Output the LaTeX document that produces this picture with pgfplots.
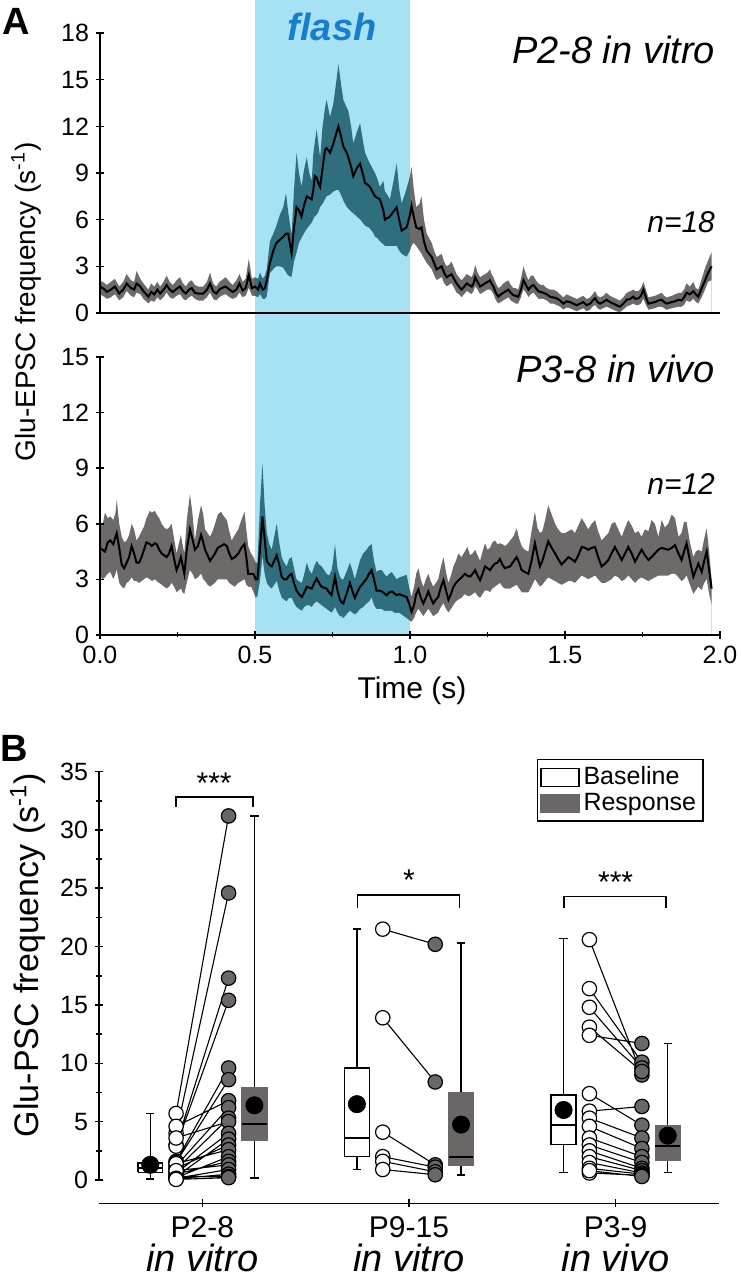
\documentclass[border=0pt]{standalone}
\usepackage{pgfplots}
\pgfplotsset{compat=1.18}
\usepackage{pgfplotstable}
\usepackage{fontspec}
\setmainfont{Liberation Sans}
\definecolor{bandgrey}{RGB}{110,106,106}
\definecolor{bandteal}{RGB}{47,110,125}
\definecolor{flashblue}{RGB}{167,226,244}
\definecolor{flashtext}{RGB}{25,125,205}
\definecolor{respgrey}{RGB}{107,103,103}

\pgfplotstableread{
t m lo hi
0.000 1.7 1.2 2.1
0.016 1.5 1.0 1.9
0.022 1.35 0.9 1.8
0.035 1.5 1.0 2.0
0.048 1.7 1.2 2.2
0.062 1.25 0.8 1.7
0.075 1.5 1.0 2.0
0.086 1.9 1.4 2.5
0.100 1.6 1.1 2.1
0.110 1.5 1.0 2.0
0.118 1.9 1.3 2.7
0.130 1.7 1.2 2.2
0.140 1.4 0.9 1.9
0.156 1.05 0.6 1.5
0.165 1.35 0.8 1.9
0.175 1.2 0.7 1.7
0.185 1.5 1.0 2.0
0.194 1.25 0.8 1.7
0.205 1.5 1.0 2.0
0.215 1.8 1.3 2.4
0.225 1.5 1.0 2.0
0.235 1.35 0.9 1.8
0.247 1.55 1.1 2.1
0.258 1.7 1.2 2.3
0.268 1.4 0.9 1.9
0.277 1.25 0.8 1.7
0.287 1.5 1.0 2.0
0.296 1.6 1.1 2.1
0.306 1.3 0.9 1.8
0.317 1.25 0.8 1.7
0.333 1.25 0.8 1.7
0.345 1.5 1.0 2.0
0.355 1.9 1.3 2.6
0.365 1.4 0.9 1.9
0.375 1.25 0.8 1.7
0.385 1.5 1.0 2.0
0.392 1.6 1.1 2.1
0.405 1.7 1.2 2.3
0.418 1.5 1.0 2.0
0.428 1.35 0.9 1.8
0.440 1.5 1.0 2.1
0.450 1.9 1.3 2.5
0.460 1.45 1.0 2.0
0.470 1.6 1.1 2.2
0.480 2.45 1.6 3.5
0.490 1.6 1.1 2.2
0.500 1.7 1.1 2.3
0.510 1.5 1.0 2.2
0.516 1.9 1.2 2.6
0.525 1.5 0.9 2.2
0.532 1.6 0.9 2.4
0.538 2.1 1.05 2.8
0.548 3.2 2.55 4.6
0.559 4.0 2.8 5.1
0.569 4.5 3.0 5.6
0.580 4.7 3.0 6.3
0.591 4.9 2.9 6.8
0.600 5.1 2.6 7.7
0.607 5.1 2.4 6.5
0.618 3.85 2.3 5.0
0.626 5.5 3.3 8.0
0.634 6.8 3.85 10.3
0.642 6.6 4.5 9.0
0.650 6.2 4.8 8.1
0.658 6.9 5.1 9.2
0.667 7.5 5.4 10.0
0.675 7.4 5.6 9.0
0.683 7.3 5.8 8.5
0.688 7.9 6.0 10.2
0.693 8.8 6.2 11.0
0.699 8.7 6.3 11.8
0.705 8.3 6.5 10.8
0.710 8.1 6.8 10.0
0.718 9.3 7.0 12.0
0.726 10.5 7.3 13.2
0.731 10.6 7.5 13.7
0.742 10.3 7.6 12.6
0.753 10.9 7.8 13.5
0.763 11.6 7.9 15.0
0.769 12.0 7.9 16.0
0.777 11.4 7.6 14.8
0.785 10.7 7.2 13.7
0.796 10.3 6.8 13.2
0.801 10.0 6.7 13.0
0.810 9.4 6.5 12.0
0.817 8.8 6.4 10.9
0.828 9.3 6.2 11.6
0.839 9.6 6.0 12.2
0.847 9.0 5.8 11.2
0.855 8.35 5.6 10.3
0.866 8.2 5.5 9.8
0.871 8.1 5.4 9.6
0.879 7.8 5.2 9.3
0.887 7.5 4.9 9.0
0.895 7.4 4.8 8.6
0.903 7.3 4.6 8.1
0.914 6.6 4.4 8.5
0.919 6.0 4.3 7.8
0.927 6.1 4.3 7.6
0.935 6.2 4.3 7.3
0.946 6.5 4.3 8.4
0.957 6.8 4.3 9.6
0.965 6.0 4.0 8.0
0.973 5.3 3.8 7.05
0.981 5.4 3.7 7.5
0.989 5.5 3.6 8.0
1.000 6.3 4.0 8.8
1.005 6.9 4.3 9.4
1.012 6.2 4.5 8.0
1.020 5.5 4.3 6.8
1.030 5.4 4.0 7.0
1.037 5.5 3.8 7.5
1.045 4.6 3.5 6.0
1.054 4.0 3.2 5.1
1.062 3.8 3.0 4.8
1.070 3.6 2.8 4.5
1.078 3.2 2.4 4.0
1.086 2.8 2.1 3.6
1.094 2.9 2.2 3.7
1.102 3.0 2.3 3.8
1.110 2.6 1.9 3.3
1.118 2.3 1.7 3.0
1.126 2.4 1.8 3.1
1.134 2.5 1.9 3.3
1.142 2.2 1.6 2.9
1.150 1.9 1.3 2.5
1.158 1.7 1.2 2.3
1.166 1.5 1.0 2.1
1.175 1.7 1.2 2.3
1.183 1.9 1.4 2.5
1.191 1.8 1.3 2.4
1.199 1.7 1.2 2.3
1.205 1.9 1.4 2.6
1.210 2.3 1.7 3.1
1.218 2.0 1.5 2.6
1.226 1.7 1.2 2.3
1.234 1.8 1.3 2.4
1.242 1.9 1.4 2.5
1.250 2.0 1.5 2.6
1.258 2.1 1.5 2.8
1.263 1.9 1.4 2.5
1.269 1.7 1.2 2.3
1.277 1.3 0.8 1.9
1.285 1.05 0.6 1.6
1.293 1.2 0.7 1.7
1.301 1.3 0.8 1.9
1.309 1.4 0.9 2.0
1.317 1.5 1.0 2.1
1.325 1.3 0.8 1.8
1.333 1.15 0.7 1.6
1.341 1.1 0.6 1.6
1.349 1.05 0.6 1.5
1.358 1.5 1.0 2.2
1.366 2.1 1.5 3.0
1.374 1.8 1.3 2.5
1.382 1.5 1.0 2.1
1.390 1.7 1.2 2.4
1.398 1.8 1.3 2.4
1.406 1.6 1.1 2.1
1.414 1.4 0.9 1.9
1.422 1.35 0.9 1.8
1.430 1.3 0.9 1.8
1.441 1.2 0.8 1.6
1.452 1.05 0.6 1.5
1.462 1.0 0.6 1.5
1.473 0.95 0.5 1.4
1.484 0.8 0.4 1.2
1.495 0.6 0.2 1.0
1.505 0.75 0.35 1.2
1.516 0.7 0.3 1.1
1.527 0.6 0.2 1.0
1.538 0.5 0.1 0.9
1.548 0.6 0.2 1.0
1.559 0.7 0.3 1.1
1.570 0.5 0.1 0.9
1.581 0.6 0.2 1.0
1.589 0.8 0.4 1.2
1.597 0.95 0.5 1.4
1.605 0.7 0.3 1.1
1.613 0.6 0.2 1.0
1.623 0.7 0.3 1.1
1.634 0.85 0.4 1.3
1.645 0.7 0.3 1.1
1.656 0.6 0.2 1.0
1.666 0.5 0.1 0.9
1.677 0.4 0.05 0.8
1.688 0.6 0.2 1.0
1.699 0.85 0.4 1.3
1.710 0.9 0.5 1.4
1.720 1.05 0.6 1.5
1.728 0.9 0.5 1.4
1.737 0.95 0.5 1.4
1.745 1.1 0.6 1.6
1.753 1.5 0.9 2.0
1.761 1.0 0.5 1.5
1.769 0.6 0.2 1.0
1.779 0.65 0.25 1.05
1.790 0.7 0.3 1.1
1.801 0.8 0.4 1.2
1.812 0.85 0.4 1.3
1.820 0.7 0.3 1.1
1.828 0.6 0.2 1.0
1.836 0.65 0.25 1.05
1.844 0.7 0.3 1.1
1.855 0.75 0.35 1.2
1.866 0.85 0.4 1.3
1.876 0.8 0.4 1.3
1.884 1.0 0.5 1.5
1.892 1.3 0.8 1.9
1.903 1.2 0.7 1.7
1.914 1.4 0.9 2.0
1.922 1.2 0.7 1.6
1.930 1.05 0.6 1.5
1.941 1.6 1.0 2.2
1.952 2.1 1.5 2.9
1.962 2.6 2.0 3.4
1.973 3.0 2.1 3.9
}\dataTop

\pgfplotstableread{
t m lo hi
0.000 4.7 3.15 6.0
0.008 4.6 3.0 5.9
0.016 4.5 3.1 6.6
0.025 5.0 3.3 6.3
0.033 5.1 3.4 6.4
0.043 4.9 3.0 6.2
0.050 5.3 3.3 6.6
0.054 5.5 3.5 7.3
0.062 4.7 2.8 6.0
0.070 3.8 2.6 5.3
0.078 3.6 2.5 5.0
0.086 3.9 2.8 5.1
0.094 4.2 2.9 5.4
0.102 4.8 3.1 6.0
0.110 4.4 2.9 5.7
0.118 3.9 2.9 5.1
0.126 3.9 2.8 5.3
0.134 4.2 2.9 5.6
0.142 4.6 3.0 5.85
0.150 5.0 3.1 6.3
0.161 4.9 3.0 6.7
0.167 4.8 2.9 6.6
0.177 4.95 3.0 6.7
0.183 4.9 2.9 6.5
0.191 4.6 2.8 6.3
0.199 4.4 2.7 6.0
0.207 4.3 2.6 5.8
0.215 4.2 2.5 5.7
0.223 4.4 2.6 5.8
0.231 4.8 2.8 6.0
0.239 4.1 2.6 5.2
0.247 3.5 2.3 4.4
0.254 3.8 2.4 4.9
0.261 4.2 2.5 5.4
0.266 3.8 2.3 4.9
0.272 3.3 2.2 4.4
0.280 4.6 2.8 6.2
0.290 5.7 3.5 7.6
0.298 5.2 3.3 6.6
0.306 4.6 3.0 5.1
0.316 4.8 3.1 6.2
0.326 5.4 3.3 7.0
0.333 5.0 3.0 6.5
0.339 4.6 2.9 5.7
0.347 4.3 2.7 5.5
0.355 4.0 2.6 5.3
0.363 4.2 2.7 5.6
0.371 4.4 2.8 6.0
0.380 4.7 3.0 6.5
0.390 4.8 3.0 6.65
0.400 4.9 3.0 6.4
0.409 4.8 3.0 6.2
0.417 4.4 2.8 5.6
0.425 4.1 2.7 5.1
0.435 4.2 2.6 5.4
0.446 4.4 2.8 5.7
0.456 4.7 2.9 6.2
0.466 4.9 3.0 6.65
0.472 4.2 2.7 5.7
0.478 3.3 2.6 4.8
0.487 3.3 2.6 4.4
0.495 3.3 2.3 4.2
0.500 3.1 2.1 4.0
0.502 3.0 2.0 3.9
0.508 3.0 2.1 3.9
0.516 4.6 2.9 7.0
0.524 6.4 4.2 9.25
0.531 5.2 3.3 7.0
0.538 4.0 2.8 5.5
0.546 3.8 2.6 4.9
0.554 3.7 2.5 4.6
0.562 4.0 2.7 5.3
0.570 4.3 2.9 6.0
0.578 3.8 2.4 5.0
0.586 3.15 2.0 4.2
0.594 3.0 1.9 3.9
0.602 3.0 1.8 3.7
0.610 3.2 2.0 4.1
0.618 3.3 2.0 4.2
0.626 2.8 1.7 3.6
0.634 2.4 1.5 3.0
0.642 2.2 1.4 2.9
0.651 2.05 1.3 2.8
0.659 2.3 1.5 3.3
0.667 2.6 1.6 3.9
0.675 2.55 1.6 3.5
0.683 2.5 1.5 3.3
0.691 2.8 1.7 3.7
0.699 3.05 1.8 4.0
0.707 2.8 1.7 3.8
0.715 2.6 1.6 3.7
0.723 2.55 1.5 3.5
0.731 2.5 1.4 3.3
0.739 2.3 1.3 3.2
0.747 2.15 1.2 3.5
0.752 2.6 1.3 4.0
0.758 3.15 1.5 4.9
0.766 2.4 1.2 3.6
0.774 1.9 1.0 3.15
0.780 1.75 1.0 3.0
0.785 1.7 0.9 3.0
0.795 2.2 1.1 3.4
0.806 2.8 1.3 3.9
0.814 2.4 1.2 3.5
0.822 2.0 1.1 3.0
0.830 2.3 1.2 3.5
0.839 2.6 1.4 4.05
0.849 2.8 1.5 4.4
0.860 3.05 1.7 4.6
0.868 3.3 1.8 4.8
0.876 3.5 2.0 4.9
0.884 3.0 1.6 4.0
0.892 2.4 1.4 3.4
0.900 2.4 1.4 3.5
0.909 2.35 1.4 3.5
0.917 2.25 1.3 3.3
0.925 2.15 1.3 3.15
0.933 2.3 1.3 3.3
0.941 2.35 1.3 3.4
0.949 2.25 1.2 3.2
0.957 2.15 1.2 3.0
0.965 2.2 1.2 3.1
0.973 2.15 1.1 3.15
0.981 2.1 1.0 3.2
0.989 2.05 0.9 3.25
0.997 1.7 0.8 2.6
1.000 1.55 0.75 2.4
1.005 1.25 0.7 2.05
1.013 1.6 0.9 2.6
1.020 2.2 1.2 3.3
1.027 2.45 1.4 3.6
1.035 2.0 1.2 3.0
1.043 1.7 1.0 2.6
1.051 2.0 1.2 3.0
1.059 2.35 1.4 3.3
1.067 2.0 1.2 2.9
1.075 1.7 1.0 2.6
1.083 1.9 1.1 2.8
1.091 2.05 1.2 3.0
1.100 2.6 1.5 3.7
1.108 2.95 1.7 4.2
1.116 2.4 1.4 3.4
1.124 1.9 1.2 2.8
1.132 2.2 1.4 3.2
1.140 2.6 1.6 3.7
1.148 2.8 1.8 4.0
1.156 2.95 1.9 4.4
1.166 3.1 2.0 4.2
1.177 3.3 2.2 4.5
1.185 3.2 2.1 4.75
1.194 3.15 2.1 4.3
1.202 3.3 2.2 4.4
1.210 3.5 2.3 4.6
1.218 3.2 2.1 4.3
1.226 2.95 2.0 4.0
1.234 3.3 2.2 4.5
1.242 3.7 2.4 4.95
1.250 3.6 2.4 4.6
1.258 3.5 2.3 4.7
1.266 3.7 2.5 5.0
1.274 3.85 2.6 5.1
1.282 3.9 2.7 4.9
1.290 4.1 2.8 4.95
1.298 3.8 2.6 4.9
1.306 3.6 2.5 4.8
1.314 3.65 2.5 4.9
1.323 3.7 2.5 5.1
1.333 3.95 2.6 5.3
1.344 4.2 2.7 5.75
1.352 3.9 2.5 5.2
1.360 3.5 2.3 4.8
1.370 3.4 2.3 4.6
1.382 3.3 2.3 4.5
1.392 4.0 2.6 5.6
1.403 4.95 3.0 6.65
1.411 4.3 2.8 5.8
1.419 3.7 2.6 5.5
1.427 4.0 2.7 5.6
1.436 4.5 2.9 6.2
1.446 5.05 3.1 7.0
1.457 4.7 3.0 6.5
1.468 4.4 2.9 6.0
1.478 4.1 2.8 5.7
1.489 3.8 2.7 5.5
1.500 4.0 2.8 5.5
1.511 4.2 2.9 5.6
1.521 4.1 2.9 5.7
1.532 3.95 2.8 5.5
1.543 4.3 3.0 5.9
1.554 4.75 3.2 6.3
1.565 4.7 3.1 6.0
1.575 4.6 3.0 5.7
1.586 4.7 3.1 6.0
1.597 4.75 3.2 6.2
1.607 4.2 3.0 5.6
1.618 3.7 2.8 5.1
1.629 3.85 2.8 5.3
1.640 4.05 2.9 5.5
1.650 4.4 3.0 6.0
1.661 4.75 3.2 6.1
1.672 4.4 3.1 5.7
1.683 4.05 2.9 5.3
1.694 4.4 3.0 5.8
1.704 4.75 3.2 6.2
1.715 4.4 3.0 5.9
1.726 3.95 2.8 5.5
1.737 4.3 3.0 5.6
1.747 4.6 3.1 5.3
1.758 4.3 3.0 5.7
1.769 4.05 2.9 5.6
1.779 4.2 3.0 6.2
1.790 4.4 3.1 6.0
1.801 4.6 3.2 5.3
1.812 4.7 3.2 6.2
1.822 4.65 3.2 5.8
1.833 4.6 3.2 6.0
1.844 4.7 3.3 6.5
1.855 4.85 3.3 6.3
1.866 4.4 3.1 5.3
1.876 4.05 2.9 5.5
1.884 4.5 3.0 6.1
1.892 4.95 3.2 6.1
1.903 4.0 2.7 5.0
1.914 3.15 2.2 4.2
1.922 3.5 2.4 4.5
1.930 3.85 2.6 4.6
1.941 3.4 2.4 4.5
1.949 4.0 2.8 5.2
1.957 4.5 3.0 5.75
1.965 3.5 2.2 4.5
1.973 2.5 1.6 3.0
}\dataBot

\begin{document}
\begin{tikzpicture}
\useasboundingbox (0,0) rectangle (370pt,640pt);
\pgfplotsset{
  panel/.style={
    scale only axis, anchor=south west,
    /pgf/number format/assume math mode=true,
    tick label style={font=\fontsize{12.5}{14}\selectfont},
    tick style={black, line width=0.8pt},
    tick align=outside,
    major tick length=4pt, minor tick length=2.5pt,
  },
  noarrows/.style={
    axis line style={-, line width=0.8pt},
    every outer x axis line/.append style={-},
    every outer y axis line/.append style={-},
    x axis line style={-}, y axis line style={-},
  },
}

% ---------- flash period (spans both A panels) ----------
\begin{axis}[scale only axis, anchor=south west, at={(50pt,322.5pt)}, width=310pt, height=317.5pt,
  xmin=0, xmax=2, ymin=0, ymax=1, hide axis]
\addplot[fill=flashblue, draw=none] coordinates {(0.5,0) (1,0) (1,1) (0.5,1)};
\end{axis}

% ---------- Panel A, lower (in vivo) ----------
\begin{axis}[panel, at={(50pt,322.5pt)}, width=310pt, height=139pt,
  xmin=0, xmax=2, ymin=0, ymax=15,
  axis x line=bottom, axis y line=left, noarrows, axis on top,
  ytick={0,3,...,15}, xtick={0,0.5,...,2}, minor x tick num=1,
  xticklabel style={/pgf/number format/fixed, /pgf/number format/fixed zerofill, /pgf/number format/precision=1}]
\addplot[fill=bandgrey, draw=none, restrict x to domain=0:0.5] table[x=t,y=hi]{\dataBot} \closedcycle;
\addplot[fill=white, draw=none, restrict x to domain=0:0.5] table[x=t,y=lo]{\dataBot} \closedcycle;
\addplot[fill=bandteal, draw=none, restrict x to domain=0.5:1] table[x=t,y=hi]{\dataBot} \closedcycle;
\addplot[fill=flashblue, draw=none, restrict x to domain=0.5:1] table[x=t,y=lo]{\dataBot} \closedcycle;
\addplot[fill=bandgrey, draw=none, restrict x to domain=1:2] table[x=t,y=hi]{\dataBot} \closedcycle;
\addplot[fill=white, draw=none, restrict x to domain=1:2] table[x=t,y=lo]{\dataBot} \closedcycle;
\addplot[black, line width=1pt] table[x=t,y=m]{\dataBot};
\end{axis}

% ---------- Panel A, upper (in vitro) ----------
\begin{axis}[panel, at={(50pt,483.5pt)}, width=310pt, height=140pt,
  xmin=0, xmax=2, ymin=0, ymax=18,
  axis x line=bottom, axis y line=left, noarrows, axis on top,
  ytick={0,3,...,18}, xtick=\empty]
\addplot[fill=bandgrey, draw=none, restrict x to domain=0:0.5] table[x=t,y=hi]{\dataTop} \closedcycle;
\addplot[fill=white, draw=none, restrict x to domain=0:0.5] table[x=t,y=lo]{\dataTop} \closedcycle;
\addplot[fill=bandteal, draw=none, restrict x to domain=0.5:1] table[x=t,y=hi]{\dataTop} \closedcycle;
\addplot[fill=flashblue, draw=none, restrict x to domain=0.5:1] table[x=t,y=lo]{\dataTop} \closedcycle;
\addplot[fill=bandgrey, draw=none, restrict x to domain=1:2] table[x=t,y=hi]{\dataTop} \closedcycle;
\addplot[fill=white, draw=none, restrict x to domain=1:2] table[x=t,y=lo]{\dataTop} \closedcycle;
\addplot[black, line width=1pt] table[x=t,y=m]{\dataTop};
\end{axis}

% texts of panel A
\node[font=\fontsize{19}{19}\selectfont\bfseries] at (8pt,629.5pt) {A};
\node[font=\fontsize{19}{19}\selectfont\bfseries\itshape, text=flashtext] at (166pt,626.5pt) {flash};
\node[anchor=east, font=\fontsize{19}{19}\selectfont\itshape] at (361pt,615pt) {P2-8 in vitro};
\node[anchor=east, font=\fontsize{15}{15}\selectfont\itshape] at (361pt,529pt) {n=18};
\node[anchor=east, font=\fontsize{19}{19}\selectfont\itshape] at (361pt,455.5pt) {P3-8 in vivo};
\node[anchor=east, font=\fontsize{15}{15}\selectfont\itshape] at (361pt,398pt) {n=12};
\node[rotate=90, font=\fontsize{14}{14}\selectfont] at (13pt,489pt) {Glu-EPSC frequency (s\textsuperscript{-1})};
\node[font=\fontsize{15}{15}\selectfont] at (206pt,294.5pt) {Time (s)};

% ---------- Panel B: detached category axis ----------
\begin{axis}[panel, at={(49.5pt,38.3pt)}, width=310pt, height=5pt,
  xmin=0.5, xmax=3.5, ymin=0, ymax=1,
  axis x line=bottom, axis y line=none, noarrows,
  xtick={1,2,3},
  xticklabels={{P2-8\\{\fontsize{19}{19}\selectfont\itshape in vitro}},
               {P9-15\\{\fontsize{19}{19}\selectfont\itshape in vitro}},
               {P3-9\\{\fontsize{19}{19}\selectfont\itshape in vivo}}},
  xticklabel style={font=\fontsize{15}{17}\selectfont, align=center, yshift=-1pt}]
\addplot[draw=none] coordinates {(1,0.5)};
\end{axis}

% ---------- Panel B: data ----------
\begin{axis}[panel, at={(49.5pt,50pt)}, width=310pt, height=204.2pt,
  xmin=0.5, xmax=3.5, ymin=0, ymax=35,
  axis x line=none, axis y line=left, noarrows,
  ytick={0,5,...,35}, minor y tick num=1,
  unbounded coords=jump,
  legend style={at={(axis cs:3.427,36.1)}, anchor=north east, draw=black, line width=0.8pt,
     font=\fontsize{12.5}{13}\selectfont, inner sep=1.5pt, row sep=-1pt},
  legend cell align=left]
\addlegendimage{legend image code/.code={\draw[fill=white,draw=black,line width=0.6pt] (0pt,-4.5pt) rectangle (19pt,4.5pt);}}
\addlegendentry{Baseline}
\addlegendimage{legend image code/.code={\draw[fill=respgrey,draw=respgrey,line width=0.6pt] (0pt,-4.5pt) rectangle (19pt,4.5pt);}}
\addlegendentry{Response}
% whiskers and caps
\addplot[forget plot, black, line width=0.7pt] coordinates {
(0.748,1.47) (0.748,5.7) (1,nan) (0.728,5.7) (0.768,5.7) (1,nan)
(0.748,0.65) (0.748,0.07) (1,nan) (0.728,0.07) (0.768,0.07) (1,nan)
(1.252,7.95) (1.252,31.2) (1,nan) (1.232,31.2) (1.272,31.2) (1,nan)
(1.252,3.37) (1.252,0.16) (1,nan) (1.232,0.16) (1.272,0.16) (1,nan)
(1.748,9.6) (1.748,21.5) (1,nan) (1.728,21.5) (1.768,21.5) (1,nan)
(1.748,2.0) (1.748,0.9) (1,nan) (1.728,0.9) (1.768,0.9) (1,nan)
(2.252,7.5) (2.252,20.3) (1,nan) (2.232,20.3) (2.272,20.3) (1,nan)
(2.252,1.24) (2.252,0.43) (1,nan) (2.232,0.43) (2.272,0.43) (1,nan)
(2.748,7.3) (2.748,20.7) (1,nan) (2.728,20.7) (2.768,20.7) (1,nan)
(2.748,3.04) (2.748,0.65) (1,nan) (2.728,0.65) (2.768,0.65) (1,nan)
(3.252,4.65) (3.252,11.7) (1,nan) (3.232,11.7) (3.272,11.7) (1,nan)
(3.252,1.7) (3.252,0.65) (1,nan) (3.232,0.65) (3.272,0.65)
};
% boxes (interquartile ranges)
\addplot[forget plot, fill=white, draw=black, line width=0.7pt] coordinates {(0.688,0.65) (0.808,0.65) (0.808,1.47) (0.688,1.47) (0.688,0.65)};
\addplot[forget plot, fill=respgrey, draw=respgrey, line width=0.7pt] coordinates {(1.192,3.37) (1.312,3.37) (1.312,7.95) (1.192,7.95) (1.192,3.37)};
\addplot[forget plot, fill=white, draw=black, line width=0.7pt] coordinates {(1.688,2.0) (1.808,2.0) (1.808,9.6) (1.688,9.6) (1.688,2.0)};
\addplot[forget plot, fill=respgrey, draw=respgrey, line width=0.7pt] coordinates {(2.192,1.24) (2.312,1.24) (2.312,7.5) (2.192,7.5) (2.192,1.24)};
\addplot[forget plot, fill=white, draw=black, line width=0.7pt] coordinates {(2.688,3.04) (2.808,3.04) (2.808,7.3) (2.688,7.3) (2.688,3.04)};
\addplot[forget plot, fill=respgrey, draw=respgrey, line width=0.7pt] coordinates {(3.192,1.7) (3.312,1.7) (3.312,4.65) (3.192,4.65) (3.192,1.7)};
% medians
\addplot[forget plot, black, line width=1pt] coordinates {
(0.688,1.0) (0.808,1.0) (1,nan)
(1.192,4.8) (1.312,4.8) (1,nan)
(1.688,3.6) (1.808,3.6) (1,nan)
(2.192,1.96) (2.312,1.96) (1,nan)
(2.688,4.74) (2.808,4.74) (1,nan)
(3.192,2.9) (3.312,2.9)
};
% means
\addplot[forget plot, only marks, mark=*, mark size=4.3pt, black] coordinates {(0.748,1.3) (1.252,6.4) (1.748,6.5) (2.252,4.75) (2.748,6.0) (3.252,3.8)};
% paired lines
\addplot[forget plot, black, line width=0.55pt] coordinates {
(0.873,5.7) (1.127,31.2) (1,nan)
(0.873,4.0) (1.127,24.6) (1,nan)
(0.873,3.0) (1.127,17.3) (1,nan)
(0.873,2.9) (1.127,15.4) (1,nan)
(0.873,1.6) (1.127,9.6) (1,nan)
(0.873,1.5) (1.127,8.6) (1,nan)
(0.873,4.6) (1.127,6.8) (1,nan)
(0.873,1.2) (1.127,6.2) (1,nan)
(0.873,0.9) (1.127,5.3) (1,nan)
(0.873,3.6) (1.127,5.0) (1,nan)
(0.873,0.6) (1.127,4.0) (1,nan)
(0.873,0.3) (1.127,3.5) (1,nan)
(0.873,1.0) (1.127,3.0) (1,nan)
(0.873,1.4) (1.127,2.6) (1,nan)
(0.873,0.2) (1.127,2.0) (1,nan)
(0.873,0.5) (1.127,1.6) (1,nan)
(0.873,0.8) (1.127,1.3) (1,nan)
(0.873,0.15) (1.127,0.9) (1,nan)
(0.873,0.1) (1.127,0.5) (1,nan)
(0.873,0.3) (1.127,0.3) (1,nan)
(0.873,0.05) (1.127,0.2) (1,nan)
(1.873,21.5) (2.127,20.2) (2,nan)
(1.873,13.9) (2.127,8.4) (2,nan)
(1.873,4.1) (2.127,1.3) (2,nan)
(1.873,2.0) (2.127,1.1) (2,nan)
(1.873,1.6) (2.127,0.7) (2,nan)
(1.873,0.9) (2.127,0.45) (2,nan)
(2.873,20.6) (3.127,9.0) (3,nan)
(2.873,16.4) (3.127,10.1) (3,nan)
(2.873,14.8) (3.127,9.6) (3,nan)
(2.873,13.1) (3.127,9.3) (3,nan)
(2.873,12.4) (3.127,11.7) (3,nan)
(2.873,7.4) (3.127,4.7) (3,nan)
(2.873,5.9) (3.127,6.3) (3,nan)
(2.873,5.3) (3.127,3.6) (3,nan)
(2.873,4.6) (3.127,2.7) (3,nan)
(2.873,3.6) (3.127,2.0) (3,nan)
(2.873,3.0) (3.127,1.5) (3,nan)
(2.873,2.5) (3.127,1.0) (3,nan)
(2.873,2.0) (3.127,0.8) (3,nan)
(2.873,1.5) (3.127,0.6) (3,nan)
(2.873,1.0) (3.127,0.5) (3,nan)
(2.873,0.6) (3.127,0.4) (3,nan)
(2.873,0.8) (3.127,0.3)
};
% baseline dots
\addplot[forget plot, only marks, mark=*, mark size=3.6pt, mark options={fill=white, draw=black, line width=0.6pt}] coordinates {
(0.873,5.7) (0.873,4.0) (0.873,3.0) (0.873,2.9) (0.873,1.6) (0.873,1.5) (0.873,4.6) (0.873,1.2) (0.873,0.9) (0.873,3.6) (0.873,0.6) (0.873,0.3) (0.873,1.0) (0.873,1.4) (0.873,0.2) (0.873,0.5) (0.873,0.8) (0.873,0.15) (0.873,0.1) (0.873,0.05)
(1.873,21.5) (1.873,13.9) (1.873,4.1) (1.873,2.0) (1.873,1.6) (1.873,0.9)
(2.873,20.6) (2.873,16.4) (2.873,14.8) (2.873,13.1) (2.873,12.4) (2.873,7.4) (2.873,5.9) (2.873,5.3) (2.873,4.6) (2.873,3.6) (2.873,3.0) (2.873,2.5) (2.873,2.0) (2.873,1.5) (2.873,1.0) (2.873,0.6) (2.873,0.8)};
% response dots
\addplot[forget plot, only marks, mark=*, mark size=3.6pt, mark options={fill=respgrey, draw=black, line width=0.6pt}] coordinates {
(1.127,31.2) (1.127,24.6) (1.127,17.3) (1.127,15.4) (1.127,9.6) (1.127,8.6) (1.127,6.8) (1.127,6.2) (1.127,5.3) (1.127,5.0) (1.127,4.0) (1.127,3.5) (1.127,3.0) (1.127,2.6) (1.127,2.0) (1.127,1.6) (1.127,1.3) (1.127,0.9) (1.127,0.5) (1.127,0.3) (1.127,0.2)
(2.127,20.2) (2.127,8.4) (2.127,1.3) (2.127,1.1) (2.127,0.7) (2.127,0.45)
(3.127,9.0) (3.127,10.1) (3.127,9.6) (3.127,9.3) (3.127,11.7) (3.127,4.7) (3.127,6.3) (3.127,3.6) (3.127,2.7) (3.127,2.0) (3.127,1.5) (3.127,1.0) (3.127,0.8) (3.127,0.6) (3.127,0.5) (3.127,0.4) (3.127,0.3)};
% significance brackets
\addplot[forget plot, black, line width=0.8pt] coordinates {(0.873,32.0) (0.873,32.8) (1.246,32.8) (1.246,32.0)};
\addplot[forget plot, black, line width=0.8pt] coordinates {(1.75,23.3) (1.75,24.4) (2.244,24.4) (2.244,23.3)};
\addplot[forget plot, black, line width=0.8pt] coordinates {(2.75,23.3) (2.75,24.3) (3.244,24.3) (3.244,23.3)};
\node[anchor=base, font=\fontsize{15}{15}\selectfont] at (axis cs:1.057,33.1) {***};
\node[anchor=base, font=\fontsize{15}{15}\selectfont] at (axis cs:2.0,24.8) {*};
\node[anchor=base, font=\fontsize{15}{15}\selectfont] at (axis cs:3.0,24.6) {***};
\end{axis}

\node[font=\fontsize{19}{19}\selectfont\bfseries] at (7pt,266pt) {B};
\node[rotate=90, font=\fontsize{17}{17}\selectfont] at (14pt,162.5pt) {Glu-PSC frequency (s\textsuperscript{-1})};
\end{tikzpicture}
\end{document}
